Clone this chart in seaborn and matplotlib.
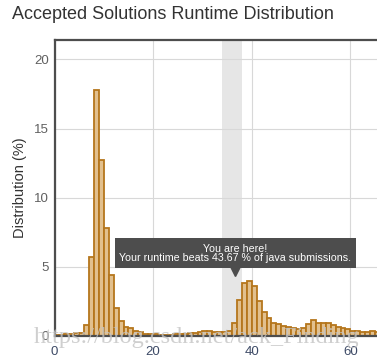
import matplotlib
matplotlib.use("Agg")
import matplotlib.pyplot as plt
from matplotlib.patches import Rectangle
import seaborn as sns

# ---- data ----
runtime_ms = [0, 1, 2, 3, 4, 5, 6, 7, 8, 9, 10, 11, 12, 13, 14, 15, 16, 17, 18, 19,
              20, 21, 22, 23, 24, 25, 26, 27, 28, 29, 30, 31, 32, 33, 34, 35, 36, 37, 38, 39,
              40, 41, 42, 43, 44, 45, 46, 47, 48, 49, 50, 51, 52, 53, 54, 55, 56, 57, 58, 59,
              60, 61, 62, 63, 64, 65]
distribution_pct = [0.05, 0.08, 0.12, 0.15, 0.2, 0.2, 0.8, 5.7, 17.8, 12.75, 7.8, 4.4, 2.0, 1.05,
                    0.68, 0.55, 0.35, 0.27, 0.18, 0.14, 0.12, 0.1, 0.1, 0.1, 0.12, 0.12, 0.15,
                    0.22, 0.25, 0.28, 0.33, 0.36, 0.3, 0.26, 0.26, 0.38, 0.96, 2.6, 3.8, 4.0,
                    3.6, 2.53, 1.76, 1.27, 0.96, 0.84, 0.72, 0.67, 0.6, 0.5, 0.6, 0.87, 1.13,
                    0.96, 0.92, 0.96, 0.79, 0.63, 0.55, 0.5, 0.38, 0.38, 0.31, 0.31, 0.38, 0.3]
x_ticks = [0, 20, 40, 60]
y_ticks = [0, 5, 10, 15, 20]
band_range = [34, 38]          # highlighted runtime band
your_runtime = 36.7
beats_pct = 43.67
language = "java"

sns.set_style("white")
plt.rcParams['font.family'] = ['Liberation Sans', 'DejaVu Sans']

fig = plt.figure(figsize=(3.77, 3.57), dpi=100)
ax = fig.add_axes([54.5 / 377, 21 / 357, (377 - 54.5) / 377, (336 - 40) / 357])

ax.axvspan(band_range[0], band_range[1], color='#e6e6e6', zorder=0, lw=0)

sns.histplot(x=runtime_ms, weights=distribution_pct, binwidth=1, binrange=(0, 66),
             color='#e2c08e', edgecolor='#b5761c', linewidth=1.3, alpha=1,
             ax=ax, zorder=2)

ax.set_xlim(0, 65.4)
ax.set_ylim(0, 21.4)
ax.set_xticks(x_ticks)
ax.set_yticks(y_ticks)
ax.grid(True, color='#d8d8d8', lw=0.8, zorder=0)
ax.set_axisbelow(True)
ax.tick_params(axis='y', length=0, pad=4, labelsize=9.5, labelcolor='#606060')
ax.tick_params(axis='x', length=0, pad=7, labelsize=9.5, labelcolor='#3d4a66')
ax.set_xlabel('')
ax.set_ylabel('Distribution (%)', fontsize=10.5, color='#333333', labelpad=5)

for side in ['left', 'top', 'bottom']:
    ax.spines[side].set_visible(True)
    ax.spines[side].set_color('#4d4d4d')
    ax.spines[side].set_linewidth(1.6)
ax.spines['right'].set_visible(False)

# tooltip
box_w, box_h, box_bottom = 48.7, 2.17, 4.9
ax.add_patch(Rectangle((your_runtime - box_w / 2, box_bottom), box_w, box_h,
                       facecolor='#4d4d4d', edgecolor='none', zorder=5))
ax.plot([your_runtime], [box_bottom - 0.2], marker='v', ms=7, color='#4d4d4d',
        zorder=5, clip_on=False)
ax.text(your_runtime, 6.29, 'You are here!', ha='center', va='center',
        color='white', fontsize=7.7, zorder=6)
ax.text(your_runtime, 5.62, f'Your runtime beats {beats_pct} % of {language} submissions.',
        ha='center', va='center', color='white', fontsize=7.7, zorder=6)

fig.text(12 / 377, 1 - 19.3 / 357, 'Accepted Solutions Runtime Distribution',
         fontsize=13, color='#333333', va='baseline', ha='left')

# watermark
fig.text(34 / 377, 1 - 337 / 357, 'https://blog.csdn.net/ack_Finding',
         fontsize=17.5, family=['Liberation Serif', 'DejaVu Serif'], color='#c4c4c4',
         alpha=0.8, va='center', ha='left', zorder=10)

fig.savefig('out.png', dpi=100)
